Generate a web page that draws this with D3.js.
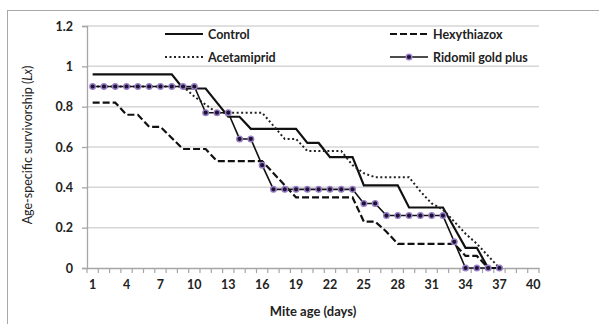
<!DOCTYPE html>
<html>
<head>
<meta charset="utf-8">
<script src="https://cdn.jsdelivr.net/npm/d3@7"></script>
<style>
  html, body { margin: 0; padding: 0; background: #fff; }
  svg { display: block; }
  text { font-family: Lato, "Open Sans", "Liberation Sans", sans-serif; fill: #222; }
</style>
</head>
<body>
<svg id="chart" width="599" height="324"></svg>
<script>
// ---- data ----
const days = d3.range(1, 38);               // x categories with data: 1..37
const axisDays = d3.range(1, 41);           // category axis 1..40
const xTickLabels = [1, 4, 7, 10, 13, 16, 19, 22, 25, 28, 31, 34, 37, 40];
const yTickValues = [0, 0.2, 0.4, 0.6, 0.8, 1, 1.2];

const control = [0.96,0.96,0.96,0.96,0.96,0.96,0.96,0.96,0.89,0.89,0.89,0.82,0.75,0.75,0.69,0.69,0.69,0.69,0.69,0.62,0.62,0.55,0.55,0.55,0.41,0.41,0.41,0.41,0.30,0.30,0.30,0.30,0.20,0.10,0.10,0,0];
const hexythiazox = [0.82,0.82,0.82,0.76,0.76,0.70,0.70,0.645,0.59,0.59,0.59,0.53,0.53,0.53,0.53,0.53,0.47,0.41,0.35,0.35,0.35,0.35,0.35,0.35,0.23,0.23,0.18,0.12,0.12,0.12,0.12,0.12,0.12,0.06,0.06,0,0];
const acetamiprid = [0.90,0.90,0.90,0.90,0.90,0.90,0.90,0.90,0.90,0.85,0.81,0.77,0.77,0.77,0.77,0.77,0.705,0.64,0.64,0.58,0.58,0.58,0.58,0.51,0.47,0.45,0.45,0.45,0.45,0.38,0.32,0.29,0.23,0.17,0.12,0.06,0];
const ridomil = [0.90,0.90,0.90,0.90,0.90,0.90,0.90,0.90,0.90,0.90,0.77,0.77,0.77,0.64,0.64,0.51,0.39,0.39,0.39,0.39,0.39,0.39,0.39,0.39,0.32,0.32,0.26,0.26,0.26,0.26,0.26,0.26,0.13,0,0,0,0];

const seriesNames = ["Control", "Hexythiazox", "Acetamiprid", "Ridomil gold plus"];
const xTitle = "Mite age (days)";

// ---- layout ----
const svg = d3.select("#chart");
const x = d3.scaleBand().domain(axisDays).range([87, 539]).padding(0);
const xc = d => x(d) + x.bandwidth() / 2;
const y = d3.scaleLinear().domain([0, 1.2]).range([268, 26]);

// outer frame
svg.append("rect").attr("x", 7.5).attr("y", 10.5).attr("width", 700).attr("height", 400)
  .attr("fill", "none").attr("stroke", "#a8a8a8").attr("stroke-width", 1);

// gridlines
svg.append("g").selectAll("line").data(yTickValues.filter(v => v > 0)).join("line")
  .attr("x1", 87).attr("x2", 539)
  .attr("y1", d => y(d)).attr("y2", d => y(d))
  .attr("stroke", "#d6d6d6").attr("stroke-width", 1.5);

// y axis
const yAxis = svg.append("g").attr("transform", "translate(87,0)")
  .call(d3.axisLeft(y).tickValues(yTickValues).tickSize(5).tickPadding(9)
    .tickFormat(d => (d === 0 ? "0" : d === 1 ? "1" : d3.format(".1f")(d))));
yAxis.select(".domain").attr("stroke", "#a6a6a6").attr("stroke-width", 1.3);
yAxis.selectAll(".tick line").attr("stroke", "#a6a6a6").attr("stroke-width", 1.3);
yAxis.selectAll("text").attr("font-size", 12.5).attr("font-weight", "bold")
  .attr("font-family", "Lato, sans-serif").attr("fill", "#222");

// x axis (labels at category centers, ticks between categories)
const xAxis = svg.append("g").attr("transform", "translate(0,268)")
  .call(d3.axisBottom(x).tickValues(xTickLabels).tickSize(0).tickPadding(12));
xAxis.select(".domain").attr("stroke", "#a6a6a6").attr("stroke-width", 1.5);
xAxis.selectAll("text").attr("font-size", 12.5).attr("font-weight", "bold")
  .attr("font-family", "Lato, sans-serif").attr("fill", "#222");
svg.append("g").selectAll("line").data(axisDays.concat([41])).join("line")
  .attr("x1", d => d <= 40 ? x(d) : x(40) + x.bandwidth())
  .attr("x2", d => d <= 40 ? x(d) : x(40) + x.bandwidth())
  .attr("y1", 268).attr("y2", 273)
  .attr("stroke", "#a6a6a6").attr("stroke-width", 1.2);

// axis titles
svg.append("text").attr("x", 313).attr("y", 316).attr("text-anchor", "middle")
  .attr("font-size", 13).attr("font-weight", "bold").text(xTitle);
const yt = svg.append("text").attr("transform", "translate(32,145) rotate(-90)")
  .attr("text-anchor", "middle").attr("font-size", 12.5);
yt.append("tspan").text("Age-specific survivorship (");
yt.append("tspan").attr("font-style", "italic").text("Lx");
yt.append("tspan").text(")");

// lines
const line = d3.line().x((d, i) => xc(days[i])).y(d => y(d));
const styles = [
  { data: control,     width: 2.2, dash: null,  color: "#111" },
  { data: hexythiazox, width: 2.2, dash: "7,3", color: "#111" },
  { data: acetamiprid, width: 2,   dash: "2,2.5", color: "#222" },
  { data: ridomil,     width: 1.6, dash: null,  color: "#111" }
];
styles.forEach(s => {
  svg.append("path").datum(s.data).attr("d", line)
    .attr("fill", "none").attr("stroke", s.color).attr("stroke-width", s.width)
    .attr("stroke-dasharray", s.dash).attr("stroke-linejoin", "miter");
});
// Ridomil markers
svg.append("g").selectAll("circle").data(ridomil).join("circle")
  .attr("cx", (d, i) => xc(days[i])).attr("cy", d => y(d)).attr("r", 2.8)
  .attr("fill", "#1d1233").attr("stroke", "#9a80c8").attr("stroke-width", 1.4);

// legend
const legend = [
  { name: seriesNames[0], sx: 165, ty: 34, s: styles[0] },
  { name: seriesNames[1], sx: 390, ty: 34, s: styles[1] },
  { name: seriesNames[2], sx: 165, ty: 57, s: styles[2] },
  { name: seriesNames[3], sx: 390, ty: 57, s: styles[3], marker: true }
];
legend.forEach(l => {
  svg.append("line").attr("x1", l.sx).attr("x2", l.sx + 38).attr("y1", l.ty).attr("y2", l.ty)
    .attr("stroke", l.s.color).attr("stroke-width", l.s.width).attr("stroke-dasharray", l.s.dash);
  if (l.marker) {
    svg.append("circle").attr("cx", l.sx + 19).attr("cy", l.ty).attr("r", 2.8)
      .attr("fill", "#1d1233").attr("stroke", "#9a80c8").attr("stroke-width", 1.4);
  }
  svg.append("text").attr("x", l.sx + 43).attr("y", l.ty + 4.5)
    .attr("font-size", 12.5).attr("font-weight", "bold").text(l.name);
});
</script>
</body>
</html>
